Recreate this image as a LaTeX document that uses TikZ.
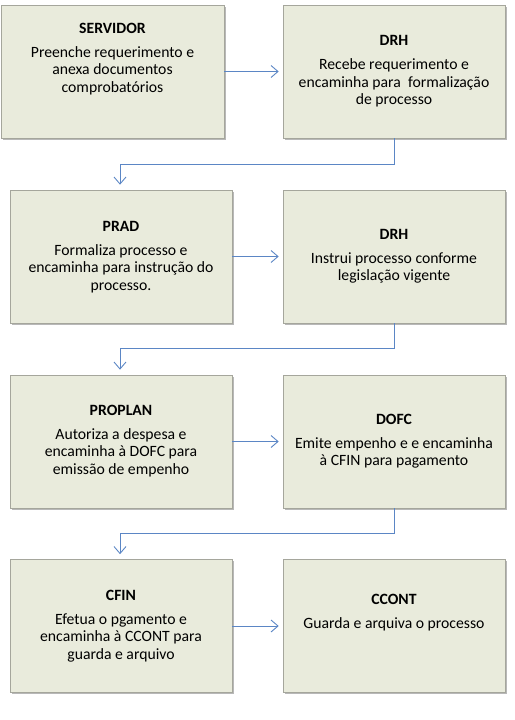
\documentclass[tikz,border=0pt]{standalone}
\usepackage{fontspec}
\setmainfont{Carlito}
\usetikzlibrary{arrows.meta,shadows}
\definecolor{boxfill}{HTML}{E9EBDC}
\definecolor{boxline}{HTML}{A5A69C}
\definecolor{conncol}{HTML}{5B86C5}
\begin{document}
\begin{tikzpicture}[x=1pt,y=-1pt,
  stepbox/.style={rectangle,draw=boxline,line width=0.6pt,fill=boxfill,inner sep=0pt,
    minimum width=222pt,minimum height=133pt,
    drop shadow={shadow xshift=1.5pt,shadow yshift=-1.8pt,fill=black,opacity=0.28}},
  boxtext/.style={align=center,inner sep=0pt,font=\fontsize{15.7}{17.5}\selectfont},
  conn/.style={draw=conncol,line width=0.9pt,-{Straight Barb[length=7pt,width=12pt]}},
]
\useasboundingbox (0,0) rectangle (514,720);
% boxes
\node[stepbox,minimum width=223pt] (s1) at (112.5,71.5) {};
\node[stepbox] (s2) at (394,71.5) {};
\node[stepbox] (s3) at (121,256.5) {};
\node[stepbox] (s4) at (394,256.5) {};
\node[stepbox] (s5) at (121,441.5) {};
\node[stepbox] (s6) at (394,441.5) {};
\node[stepbox] (s7) at (121,626) {};
\node[stepbox] (s8) at (394,626) {};
% texts
\node[boxtext] (t1) at (112.5,59) {\textbf{SERVIDOR}\\[6.5pt]Preenche requerimento e\\anexa documentos\\comprobatórios};
\node[boxtext] (t2) at (394,71.5) {\textbf{DRH}\\[6.5pt]Recebe requerimento e\\encaminha para~ formalização\\de processo};
\node[boxtext] (t3) at (121,257) {\textbf{PRAD}\\[6.5pt]Formaliza processo e\\encaminha para instrução do\\processo.};
\node[boxtext] (t4) at (394,256.5) {\textbf{DRH}\\[6.5pt]Instrui processo conforme\\legislação vigente};
\node[boxtext] (t5) at (121,441) {\textbf{PROPLAN}\\[6.5pt]Autoriza a despesa e\\encaminha à DOFC para\\emissão de empenho};
\node[boxtext] (t6) at (394,441) {\textbf{DOFC}\\[6.5pt]Emite empenho e e encaminha\\à CFIN para pagamento};
\node[boxtext] (t7) at (121,626) {\textbf{CFIN}\\[6.5pt]Efetua o pgamento e\\encaminha à CCONT para\\guarda e arquivo};
\node[boxtext] (t8) at (394,613) {\textbf{CCONT}\\[6.5pt]Guarda e arquiva o processo};
% connectors
\draw[conn,shorten >=4pt] (s1.east) -- (s2.west);
\draw[conn,shorten >=4pt] (s3.east) -- (s4.west);
\draw[conn,shorten >=4pt] (s5.east) -- (s6.west);
\draw[conn,shorten >=4pt] (s7.east) -- (s8.west);
\draw[conn,shorten >=5pt] (s2.south) -- ++(0,26) -| ([xshift=-1pt]s3.north);
\draw[conn,shorten >=5pt] (s4.south) -- ++(0,25) -| ([xshift=-1pt]s5.north);
\draw[conn,shorten >=5pt] (s6.south) -- ++(0,25) -| ([xshift=-1pt]s7.north);
\end{tikzpicture}
\end{document}
